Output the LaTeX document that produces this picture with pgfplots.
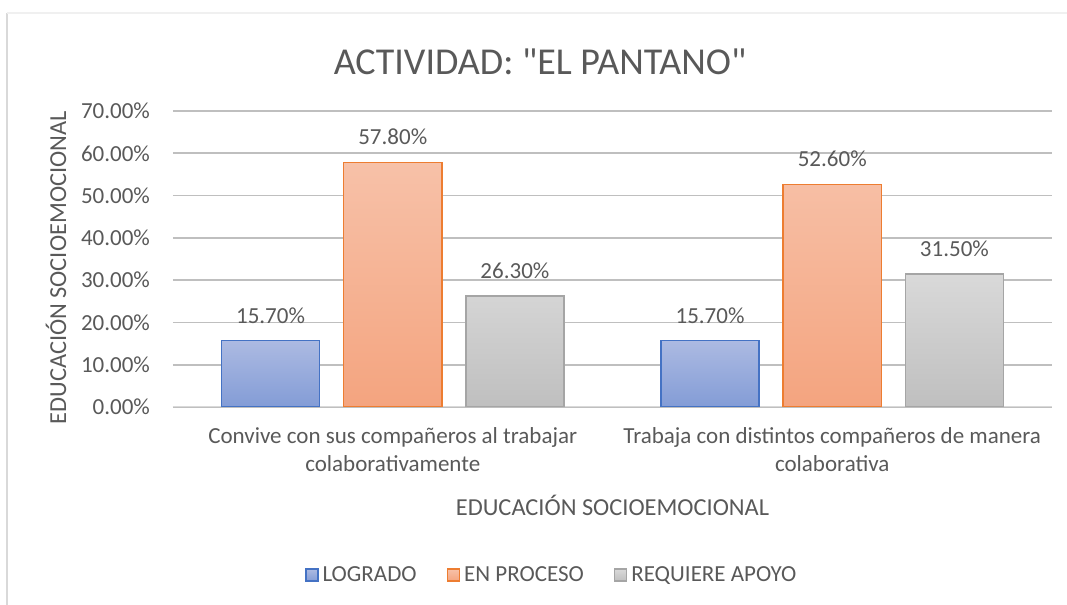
\documentclass[border=0pt]{standalone}
\usepackage{pgfplots}
\pgfplotsset{compat=1.18}
\usepackage{fontspec}
\setmainfont{Carlito}
\newfontfamily\plainfont{Carlito}[Ligatures=TeXOff]
\definecolor{txt}{HTML}{595959}
\definecolor{grid}{HTML}{D9D9D9}
\definecolor{bTop}{RGB}{172,186,226}
\definecolor{bBot}{RGB}{131,156,214}
\definecolor{bLine}{HTML}{4472C4}
\definecolor{oTop}{RGB}{247,193,168}
\definecolor{oBot}{RGB}{244,164,127}
\definecolor{oLine}{HTML}{ED7D31}
\definecolor{gTop}{RGB}{217,217,217}
\definecolor{gBot}{RGB}{191,191,191}
\definecolor{gLine}{HTML}{A5A5A5}
\begin{document}
\begin{tikzpicture}
\useasboundingbox (0,0) rectangle (533.5pt,302.5pt);
\draw[grid, line width=0.8pt] (3.5pt,0) -- (3.5pt,296pt);
\draw[gray!12, line width=0.6pt] (3.5pt,296pt) -- (533.5pt,296pt);
\node[txt, font=\plainfont\fontsize{19}{22}\selectfont] at (270pt,271.5pt) {ACTIVIDAD: "EL PANTANO"};
\begin{axis}[
  at={(86.5pt,99pt)}, anchor=south west,
  scale only axis, width=439.5pt, height=148pt,
  xmin=-0.5, xmax=1.5, ymin=0, ymax=70,
  ybar, bar width=0.223,
  xtick={0,1},
  xticklabels={{Convive con sus compañeros al trabajar\\colaborativamente},{Trabaja con distintos compañeros de manera\\colaborativa}},
  ytick={0,10,...,70},
  yticklabel={\pgfmathprintnumber[fixed,fixed zerofill,precision=2]{\tick}\%},
  /pgf/number format/assume math mode=true,
  major tick length=0,
  tick style={draw=none},
  xmajorgrids=false,
  axis line style={draw=none},
  ymajorgrids, grid style={grid, line width=0.8pt},
  tick label style={txt, font=\fontsize{11.5}{14}\selectfont},
  yticklabel style={xshift=-8pt},
  xticklabel style={align=center, yshift=-6.5pt},
  xlabel={EDUCACIÓN SOCIOEMOCIONAL},
  ylabel={EDUCACIÓN SOCIOEMOCIONAL},
  label style={txt, font=\fontsize{12.2}{14}\selectfont},
  xlabel style={at={(axis description cs:0.5,-0.331)}, anchor=center},
  ylabel style={at={(axis description cs:-0.133,0.47)}, anchor=center, rotate=0},
  nodes near coords={\pgfmathprintnumber[fixed,fixed zerofill,precision=2]{\pgfplotspointmeta}\%},
  every node near coord/.append style={txt, font=\fontsize{11.5}{13.5}\selectfont, yshift=5pt},
  legend style={at={(axis description cs:0.432,-0.568)}, anchor=center, draw=none, fill=none,
    font=\fontsize{11.5}{13.5}\selectfont, text=txt, legend columns=3,
    /tikz/every even column/.append style={column sep=13pt}},
  legend image code/.code={\draw[#1, line width=0.75pt] (0pt,-3pt) rectangle (6pt,3pt);},
]
\draw[grid, line width=0.8pt] (rel axis cs:0,0) -- (rel axis cs:1,0);
\addplot[bar shift=-0.278, draw=bLine, line width=0.75pt, top color=bTop, bottom color=bBot] coordinates {(0,15.7) (1,15.7)};
\addplot[bar shift=0, draw=oLine, line width=0.75pt, top color=oTop, bottom color=oBot] coordinates {(0,57.8) (1,52.6)};
\addplot[bar shift=0.278, draw=gLine, line width=0.75pt, top color=gTop, bottom color=gBot] coordinates {(0,26.3) (1,31.5)};
\legend{LOGRADO, EN PROCESO, REQUIERE APOYO}
\end{axis}
\end{tikzpicture}
\end{document}
